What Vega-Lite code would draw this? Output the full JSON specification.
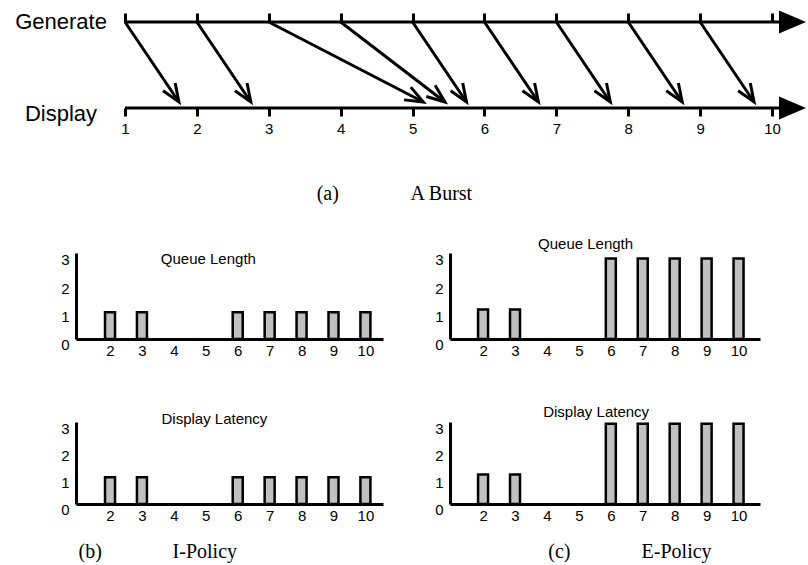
{
  "$schema": "https://vega.github.io/schema/vega-lite/v6.json",
  "background": "white",
  "padding": {"left": 14, "top": 10, "right": 0, "bottom": 0},
  "bounds": "flush",
  "spacing": 145,
  "config": {
    "view": {"stroke": null},
    "axis": {"grid": false, "title": null, "domainColor": "black", "tickColor": "black", "labelColor": "black", "labelFont": "Liberation Sans", "labelFlush": false}
  },
  "datasets": {
    "frames": [
      {"gen": 1, "disp": 1.75}, {"gen": 2, "disp": 2.75}, {"gen": 3, "disp": 5.15},
      {"gen": 4, "disp": 5.45}, {"gen": 5, "disp": 5.75}, {"gen": 6, "disp": 6.75},
      {"gen": 7, "disp": 7.75}, {"gen": 8, "disp": 8.75}, {"gen": 9, "disp": 9.75}
    ],
    "lines": [{"line": "Generate", "level": 1}, {"line": "Display", "level": 0}]
  },
  "vconcat": [
    {
      "width": 730,
      "height": 86,
      "resolve": {"axis": {"x": "independent", "y": "independent"}},
      "layer": [
        {
          "data": {"name": "lines"},
          "mark": {"type": "rule", "strokeWidth": 3, "color": "black"},
          "encoding": {
            "x": {"datum": 1, "type": "quantitative", "scale": {"domain": [0.3184, 10.4727], "nice": false, "zero": false},
                  "axis": {"orient": "top", "values": [1, 2, 3, 4, 5, 6, 7, 8, 9, 10], "domain": false, "labels": false, "ticks": true, "tickSize": 9, "tickWidth": 3}},
            "x2": {"datum": 10.2},
            "y": {"field": "level", "type": "quantitative", "scale": {"domain": [0, 1], "nice": false},
                  "axis": {"orient": "left", "values": [0, 1], "domain": false, "ticks": false, "tickSize": 0,
                           "labelExpr": "datum.value == 1 ? 'Generate' : 'Display'", "labelFontSize": 22,
                           "labelAlign": "center", "labelBaseline": "middle", "labelPadding": 15.5,
                           "labelOffset": {"condition": {"test": "datum.value == 0", "value": 5}, "value": -1}}}
          }
        },
        {
          "data": {"name": "frames"},
          "mark": {"type": "rule", "strokeWidth": 3, "color": "black"},
          "encoding": {
            "x": {"field": "gen", "type": "quantitative", "scale": {"domain": [0.3184, 10.4727], "nice": false, "zero": false},
                  "axis": {"orient": "bottom", "values": [1, 2, 3, 4, 5, 6, 7, 8, 9, 10], "domain": false, "ticks": true, "tickSize": 8, "tickWidth": 3, "labelFontSize": 15, "labelPadding": 5}},
            "x2": {"field": "disp"},
            "y": {"datum": 1, "type": "quantitative", "scale": {"domain": [0, 1], "nice": false}, "axis": null},
            "y2": {"datum": 0.07}
          }
        },
        {
          "data": {"name": "frames"},
          "mark": {"type": "point", "shape": "M-0.4,-1L0,0L0.4,-1", "filled": false, "stroke": "black", "strokeWidth": 3, "size": 1300, "opacity": 1},
          "encoding": {
            "x": {"field": "disp", "type": "quantitative", "scale": {"domain": [0.3184, 10.4727], "nice": false, "zero": false}, "axis": null},
            "y": {"datum": 0.07, "type": "quantitative", "scale": {"domain": [0, 1], "nice": false}, "axis": null},
            "angle": {"condition": [{"test": "datum.gen == 3", "value": -62}, {"test": "datum.gen == 4", "value": -52}], "value": -33}
          }
        },
        {
          "data": {"name": "lines"},
          "mark": {"type": "point", "shape": "M-1,-0.85L1,0L-1,0.85Z", "filled": true, "color": "black", "size": 729, "opacity": 1},
          "encoding": {
            "x": {"datum": 10.285, "type": "quantitative", "scale": {"domain": [0.3184, 10.4727], "nice": false, "zero": false}, "axis": null},
            "y": {"field": "level", "type": "quantitative", "scale": {"domain": [0, 1], "nice": false}, "axis": null}
          }
        },
        {
          "data": {"values": [{}]},
          "mark": {"type": "text", "font": "Liberation Serif", "fontSize": 20, "color": "black"},
          "encoding": {
            "x": {"datum": 3.82, "type": "quantitative", "scale": {"domain": [0.3184, 10.4727], "nice": false, "zero": false}, "axis": null},
            "y": {"datum": -1.0, "type": "quantitative", "scale": {"domain": [0, 1], "nice": false}, "axis": null},
            "text": {"value": "(a)"}
          }
        },
        {
          "data": {"values": [{}]},
          "mark": {"type": "text", "font": "Liberation Serif", "fontSize": 20, "color": "black"},
          "encoding": {
            "x": {"datum": 5.4, "type": "quantitative", "scale": {"domain": [0.3184, 10.4727], "nice": false, "zero": false}, "axis": null},
            "y": {"datum": -1.0, "type": "quantitative", "scale": {"domain": [0, 1], "nice": false}, "axis": null},
            "text": {"value": "A Burst"}
          }
        }
      ]
    },
    {
      "bounds": "flush",
      "columns": 2,
      "spacing": {"row": 83, "column": 67},
      "concat": [
        {
          "width": 307,
          "height": 86,
          "resolve": {"axis": {"x": "independent", "y": "independent"}},
          "layer": [
            {
              "data": {"values": [
                {"frame": 2, "queue": 1}, {"frame": 3, "queue": 1},
                {"frame": 6, "queue": 1}, {"frame": 7, "queue": 1}, {"frame": 8, "queue": 1}, {"frame": 9, "queue": 1}, {"frame": 10, "queue": 1}
              ]},
              "mark": {"type": "bar", "size": 10, "fill": "#c0c0c0", "stroke": "black", "strokeWidth": 2.5},
              "encoding": {
                "x": {"field": "frame", "type": "quantitative", "scale": {"domain": [1.091, 10.394], "nice": false, "zero": false},
                      "axis": {"values": [2, 3, 4, 5, 6, 7, 8, 9, 10], "ticks": false, "tickSize": 0, "domainWidth": 3, "labelFontSize": 15, "labelPadding": 4}},
                "y": {"field": "queue", "type": "quantitative", "scale": {"domain": [0, 3.2], "nice": false},
                      "axis": {"values": [0, 1, 2, 3], "ticks": false, "tickSize": 0, "domainWidth": 3, "labelFontSize": 15, "labelPadding": 7,
                               "labelOffset": {"condition": [{"test": "datum.value == 0", "value": 5}, {"test": "datum.value == 1", "value": 4}, {"test": "datum.value == 2", "value": 3}], "value": 1.5}}}
              }
            },
            {
              "data": {"values": [{}]},
              "mark": {"type": "text", "font": "Liberation Sans", "fontSize": 15, "color": "black"},
              "encoding": {
                "x": {"datum": 5.08, "type": "quantitative", "scale": {"domain": [1.091, 10.394], "nice": false, "zero": false}, "axis": null},
                "y": {"datum": 2.98, "type": "quantitative", "scale": {"domain": [0, 3.2], "nice": false}, "axis": null},
                "text": {"value": "Queue Length"}
              }
            }
          ]
        },
        {
          "width": 310,
          "height": 86,
          "resolve": {"axis": {"x": "independent", "y": "independent"}},
          "layer": [
            {
              "data": {"values": [
                {"frame": 2, "queue": 1.1}, {"frame": 3, "queue": 1.1},
                {"frame": 6, "queue": 3}, {"frame": 7, "queue": 3}, {"frame": 8, "queue": 3}, {"frame": 9, "queue": 3}, {"frame": 10, "queue": 3}
              ]},
              "mark": {"type": "bar", "size": 10, "fill": "#c0c0c0", "stroke": "black", "strokeWidth": 2.5},
              "encoding": {
                "x": {"field": "frame", "type": "quantitative", "scale": {"domain": [1.121, 10.515], "nice": false, "zero": false},
                      "axis": {"values": [2, 3, 4, 5, 6, 7, 8, 9, 10], "ticks": false, "tickSize": 0, "domainWidth": 3, "labelFontSize": 15, "labelPadding": 4}},
                "y": {"field": "queue", "type": "quantitative", "scale": {"domain": [0, 3.2], "nice": false},
                      "axis": {"values": [0, 1, 2, 3], "ticks": false, "tickSize": 0, "domainWidth": 3, "labelFontSize": 15, "labelPadding": 7,
                               "labelOffset": {"condition": [{"test": "datum.value == 0", "value": 5}, {"test": "datum.value == 1", "value": 4}, {"test": "datum.value == 2", "value": 3}], "value": 1.5}}}
              }
            },
            {
              "data": {"values": [{}]},
              "mark": {"type": "text", "font": "Liberation Sans", "fontSize": 15, "color": "black"},
              "encoding": {
                "x": {"datum": 5.21, "type": "quantitative", "scale": {"domain": [1.121, 10.515], "nice": false, "zero": false}, "axis": null},
                "y": {"datum": 3.55, "type": "quantitative", "scale": {"domain": [0, 3.2], "nice": false}, "axis": null},
                "text": {"value": "Queue Length"}
              }
            }
          ]
        },
        {
          "width": 307,
          "height": 82,
          "resolve": {"axis": {"x": "independent", "y": "independent"}},
          "layer": [
            {
              "data": {"values": [
                {"frame": 2, "latency": 1}, {"frame": 3, "latency": 1},
                {"frame": 6, "latency": 1}, {"frame": 7, "latency": 1}, {"frame": 8, "latency": 1}, {"frame": 9, "latency": 1}, {"frame": 10, "latency": 1}
              ]},
              "mark": {"type": "bar", "size": 10, "fill": "#c0c0c0", "stroke": "black", "strokeWidth": 2.5},
              "encoding": {
                "x": {"field": "frame", "type": "quantitative", "scale": {"domain": [1.091, 10.394], "nice": false, "zero": false},
                      "axis": {"values": [2, 3, 4, 5, 6, 7, 8, 9, 10], "ticks": false, "tickSize": 0, "domainWidth": 3, "labelFontSize": 15, "labelPadding": 4}},
                "y": {"field": "latency", "type": "quantitative", "scale": {"domain": [0, 3.07], "nice": false},
                      "axis": {"values": [0, 1, 2, 3], "ticks": false, "tickSize": 0, "domainWidth": 3, "labelFontSize": 15, "labelPadding": 7, "labelOffset": 5}}
              }
            },
            {
              "data": {"values": [{}]},
              "mark": {"type": "text", "font": "Liberation Sans", "fontSize": 15, "color": "black"},
              "encoding": {
                "x": {"datum": 5.27, "type": "quantitative", "scale": {"domain": [1.091, 10.394], "nice": false, "zero": false}, "axis": null},
                "y": {"datum": 3.2, "type": "quantitative", "scale": {"domain": [0, 3.07], "nice": false}, "axis": null},
                "text": {"value": "Display Latency"}
              }
            },
            {
              "data": {"values": [{}]},
              "mark": {"type": "text", "font": "Liberation Serif", "fontSize": 20, "color": "black"},
              "encoding": {
                "x": {"datum": 1.38, "type": "quantitative", "scale": {"domain": [1.091, 10.394], "nice": false, "zero": false}, "axis": null},
                "y": {"datum": -1.8, "type": "quantitative", "scale": {"domain": [0, 3.07], "nice": false}, "axis": null},
                "text": {"value": "(b)"}
              }
            },
            {
              "data": {"values": [{}]},
              "mark": {"type": "text", "font": "Liberation Serif", "fontSize": 20, "color": "black"},
              "encoding": {
                "x": {"datum": 4.97, "type": "quantitative", "scale": {"domain": [1.091, 10.394], "nice": false, "zero": false}, "axis": null},
                "y": {"datum": -1.8, "type": "quantitative", "scale": {"domain": [0, 3.07], "nice": false}, "axis": null},
                "text": {"value": "I-Policy"}
              }
            }
          ]
        },
        {
          "width": 310,
          "height": 82,
          "resolve": {"axis": {"x": "independent", "y": "independent"}},
          "layer": [
            {
              "data": {"values": [
                {"frame": 2, "latency": 1.1}, {"frame": 3, "latency": 1.1},
                {"frame": 6, "latency": 3}, {"frame": 7, "latency": 3}, {"frame": 8, "latency": 3}, {"frame": 9, "latency": 3}, {"frame": 10, "latency": 3}
              ]},
              "mark": {"type": "bar", "size": 10, "fill": "#c0c0c0", "stroke": "black", "strokeWidth": 2.5},
              "encoding": {
                "x": {"field": "frame", "type": "quantitative", "scale": {"domain": [1.121, 10.515], "nice": false, "zero": false},
                      "axis": {"values": [2, 3, 4, 5, 6, 7, 8, 9, 10], "ticks": false, "tickSize": 0, "domainWidth": 3, "labelFontSize": 15, "labelPadding": 4}},
                "y": {"field": "latency", "type": "quantitative", "scale": {"domain": [0, 3.07], "nice": false},
                      "axis": {"values": [0, 1, 2, 3], "ticks": false, "tickSize": 0, "domainWidth": 3, "labelFontSize": 15, "labelPadding": 7, "labelOffset": 5}}
              }
            },
            {
              "data": {"values": [{}]},
              "mark": {"type": "text", "font": "Liberation Sans", "fontSize": 15, "color": "black"},
              "encoding": {
                "x": {"datum": 5.54, "type": "quantitative", "scale": {"domain": [1.121, 10.515], "nice": false, "zero": false}, "axis": null},
                "y": {"datum": 3.43, "type": "quantitative", "scale": {"domain": [0, 3.07], "nice": false}, "axis": null},
                "text": {"value": "Display Latency"}
              }
            },
            {
              "data": {"values": [{}]},
              "mark": {"type": "text", "font": "Liberation Serif", "fontSize": 20, "color": "black"},
              "encoding": {
                "x": {"datum": 4.39, "type": "quantitative", "scale": {"domain": [1.121, 10.515], "nice": false, "zero": false}, "axis": null},
                "y": {"datum": -1.8, "type": "quantitative", "scale": {"domain": [0, 3.07], "nice": false}, "axis": null},
                "text": {"value": "(c)"}
              }
            },
            {
              "data": {"values": [{}]},
              "mark": {"type": "text", "font": "Liberation Serif", "fontSize": 20, "color": "black"},
              "encoding": {
                "x": {"datum": 8.06, "type": "quantitative", "scale": {"domain": [1.121, 10.515], "nice": false, "zero": false}, "axis": null},
                "y": {"datum": -1.8, "type": "quantitative", "scale": {"domain": [0, 3.07], "nice": false}, "axis": null},
                "text": {"value": "E-Policy"}
              }
            }
          ]
        }
      ]
    }
  ]
}
